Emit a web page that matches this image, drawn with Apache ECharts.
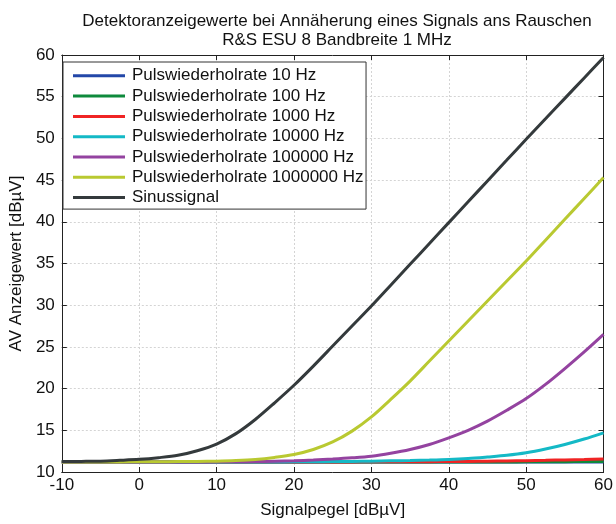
<!DOCTYPE html>
<html>
<head>
<meta charset="utf-8">
<script src="https://cdn.jsdelivr.net/npm/echarts@6/dist/echarts.min.js"></script>
<style>
  html, body { margin: 0; padding: 0; background: #fff; }
  #chart { width: 616px; height: 524px; }
</style>
</head>
<body>
<div id="chart"></div>
<script>
// Signalpegel in dBµV, Schritt 2.5
const xs = [-10, -7.5, -5, -2.5, 0, 2.5, 5, 7.5, 10, 12.5, 15, 17.5, 20, 22.5, 25, 27.5,
  30, 32.5, 35, 37.5, 40, 42.5, 45, 47.5, 50, 52.5, 55, 57.5, 60]

const rate10 = [11.2, 11.2, 11.2, 11.2, 11.2, 11.2, 11.2, 11.2, 11.2, 11.2, 11.2, 11.2, 11.2, 11.2, 11.2, 11.2,
  11.2, 11.2, 11.2, 11.2, 11.2, 11.2, 11.2, 11.2, 11.2, 11.2, 11.2, 11.2, 11.2]
const rate100 = [11.2, 11.2, 11.2, 11.2, 11.2, 11.2, 11.2, 11.2, 11.2, 11.2, 11.2, 11.2, 11.2, 11.2, 11.2, 11.2,
  11.2, 11.2, 11.2, 11.2, 11.2, 11.2, 11.21, 11.21, 11.22, 11.23, 11.24, 11.25, 11.27]
const rate1000 = [11.2, 11.2, 11.2, 11.2, 11.2, 11.2, 11.2, 11.2, 11.2, 11.2, 11.2, 11.2, 11.2, 11.2, 11.21, 11.21,
  11.22, 11.22, 11.23, 11.24, 11.25, 11.27, 11.3, 11.33, 11.36, 11.4, 11.45, 11.5, 11.57]
const rate10000 = [11.2, 11.2, 11.2, 11.2, 11.2, 11.2, 11.2, 11.2, 11.2, 11.2, 11.21, 11.21, 11.22, 11.23, 11.25, 11.27,
  11.3, 11.34, 11.38, 11.43, 11.5, 11.62, 11.8, 12.0, 12.3, 12.75, 13.3, 13.95, 14.7]
const rate100000 = [11.2, 11.2, 11.2, 11.2, 11.2, 11.2, 11.21, 11.21, 11.22, 11.23, 11.25, 11.3, 11.35, 11.43, 11.55, 11.7,
  11.9, 12.25, 12.7, 13.3, 14.1, 15.0, 16.1, 17.4, 18.8, 20.5, 22.4, 24.4, 26.5]
const rate1000000 = [11.2, 11.2, 11.2, 11.21, 11.22, 11.23, 11.25, 11.27, 11.3, 11.37, 11.5, 11.75, 12.1, 12.7, 13.6, 14.9,
  16.6, 18.7, 20.9, 23.3, 25.7, 28.1, 30.5, 32.9, 35.3, 37.8, 40.3, 42.8, 45.3]
const sinus = [11.25, 11.27, 11.3, 11.4, 11.52, 11.72, 12.0, 12.55, 13.35, 14.6, 16.3, 18.3, 20.4, 22.7, 25.1, 27.5,
  29.9, 32.4, 34.9, 37.4, 39.9, 42.4, 44.9, 47.4, 49.9, 52.35, 54.8, 57.25, 59.7]

const names = [
  'Pulswiederholrate 10 Hz',
  'Pulswiederholrate 100 Hz',
  'Pulswiederholrate 1000 Hz',
  'Pulswiederholrate 10000 Hz',
  'Pulswiederholrate 100000 Hz',
  'Pulswiederholrate 1000000 Hz',
  'Sinussignal'
]
const colors = ['#2347a8', '#0e8a3c', '#f02424', '#14b9c6', '#9443a0', '#b9c931', '#343a3c']
const values = [rate10, rate100, rate1000, rate10000, rate100000, rate1000000, sinus]

const font = 'Liberation Sans, Arial, sans-serif'
const chart = echarts.init(document.getElementById('chart'))

const gridLine = { show: true, lineStyle: { color: '#d4d4d4', type: [2, 2], width: 1 } }
const axLine = { show: true, onZero: false, lineStyle: { color: '#222', width: 1 } }
const inTick = { show: true, inside: true, length: 5, lineStyle: { color: '#222' } }

chart.setOption({
  animation: false,
  color: colors,
  title: {
    text: 'Detektoranzeigewerte bei Annäherung eines Signals ans Rauschen\nR&S ESU 8 Bandbreite 1 MHz',
    left: 332,
    textAlign: 'center',
    top: 7,
    textStyle: { fontFamily: font, fontWeight: 'normal', fontSize: 17, color: '#111', lineHeight: 19 }
  },
  grid: { left: 55, right: 11, top: 55, bottom: 46 },
  legend: {
    orient: 'vertical',
    left: 63,
    top: 62,
    itemWidth: 52,
    itemHeight: 3,
    itemGap: 3.3,
    padding: [5.3, 2.5, 3, 10],
    backgroundColor: '#fff',
    borderColor: '#333',
    borderWidth: 1,
    icon: 'rect',
    textStyle: { fontFamily: font, fontSize: 17, color: '#111', padding: [0, 0, 0, 2] },
    data: names
  },
  xAxis: [
    {
      type: 'value', min: -10, max: 60, interval: 10,
      name: 'Signalpegel [dBµV]', nameLocation: 'middle', nameGap: 30,
      nameTextStyle: { fontFamily: font, fontSize: 17, color: '#111' },
      axisLine: axLine, axisTick: inTick, splitLine: gridLine,
      axisLabel: { fontFamily: font, fontSize: 17, color: '#111', margin: 5 }
    },
    {
      type: 'value', position: 'top', min: -10, max: 60, interval: 10,
      axisLine: axLine, axisTick: inTick, splitLine: { show: false }, axisLabel: { show: false }
    }
  ],
  yAxis: [
    {
      type: 'value', min: 10, max: 60, interval: 5,
      name: 'AV Anzeigewert [dBµV]', nameLocation: 'middle', nameGap: 31,
      nameTextStyle: { fontFamily: font, fontSize: 17, color: '#111' },
      axisLine: axLine, axisTick: inTick, splitLine: gridLine,
      axisLabel: { fontFamily: font, fontSize: 17, color: '#111', margin: 7 }
    },
    {
      type: 'value', position: 'right', min: 10, max: 60, interval: 5,
      axisLine: axLine, axisTick: inTick, splitLine: { show: false }, axisLabel: { show: false }
    }
  ],
  series: values.map((v, i) => ({
    name: names[i],
    type: 'line',
    smooth: 0.3,
    showSymbol: false,
    symbol: 'none',
    lineStyle: { width: 3, color: colors[i] },
    itemStyle: { color: colors[i] },
    z: 2 + i,
    data: xs.map((x, k) => [x, v[k]])
  }))
})
</script>
</body>
</html>
